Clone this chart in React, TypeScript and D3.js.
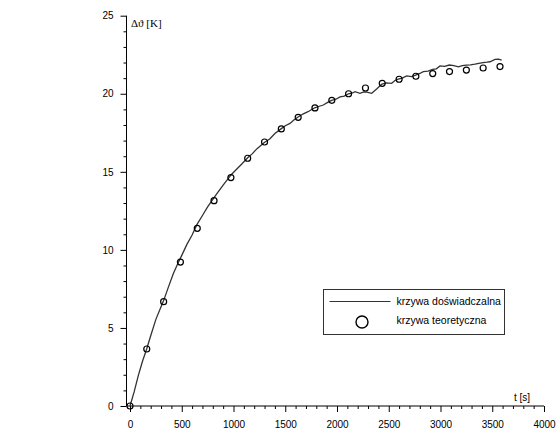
import React, { useRef, useEffect } from 'react';
import * as d3 from 'd3';

const expTime = [0, 40, 80, 120, 161, 200, 250, 300, 325, 370, 420, 460, 500, 550, 600, 645, 700, 750, 812, 850, 900, 976, 1020, 1080, 1137, 1180, 1230, 1301, 1350, 1400, 1459, 1500, 1546, 1580, 1620, 1670, 1720, 1784, 1830, 1868, 1910, 1948, 1990, 2029, 2070, 2112, 2150, 2174, 2222, 2260, 2287, 2335, 2383, 2434, 2480, 2528, 2560, 2592, 2630, 2673, 2720, 2760, 2800, 2834, 2880, 2924, 2960, 2995, 3040, 3085, 3130, 3173, 3210, 3250, 3290, 3333, 3370, 3410, 3450, 3478, 3527, 3560, 3591];
const expDelta = [0, 0.9, 1.95, 2.85, 3.65, 4.5, 5.55, 6.35, 6.75, 7.6, 8.5, 9.1, 9.65, 10.35, 10.95, 11.6, 12.2, 12.75, 13.35, 13.7, 14.15, 14.8, 15.1, 15.5, 15.9, 16.15, 16.5, 16.9, 17.1, 17.45, 17.75, 17.95, 18.1, 18.3, 18.5, 18.7, 18.85, 19.1, 19.2, 19.28, 19.45, 19.58, 19.65, 19.8, 19.85, 20.0, 20.05, 20.13, 20.03, 20.12, 20.1, 20.03, 20.3, 20.62, 20.7, 20.67, 20.85, 20.93, 21.0, 21.14, 21.1, 21.2, 21.3, 21.42, 21.45, 21.56, 21.6, 21.78, 21.75, 21.84, 21.8, 21.72, 21.8, 21.84, 21.85, 21.9, 21.95, 22.0, 22.02, 22.05, 22.2, 22.22, 22.16];

// theoretical points
const theoTime = [0, 162, 325, 487, 650, 812, 975, 1137, 1300, 1462, 1625, 1787, 1950, 2112, 2275, 2437, 2600, 2762, 2925, 3087, 3250, 3412, 3575];
const theoDelta = [0, 3.65, 6.68, 9.22, 11.38, 13.15, 14.63, 15.87, 16.91, 17.75, 18.49, 19.09, 19.58, 20.0, 20.37, 20.67, 20.93, 21.12, 21.29, 21.42, 21.52, 21.65, 21.74];

const xMajor = [0, 500, 1000, 1500, 2000, 2500, 3000, 3500, 4000];
const yMajor = [0, 5, 10, 15, 20, 25];
const legendLabels = ['krzywa doświadczalna', 'krzywa teoretyczna'];

const W = 556;
const H = 429;

const App = () => {
  const ref = useRef<SVGSVGElement>(null);

  useEffect(() => {
    const svg = d3.select(ref.current);
    svg.selectAll('*').remove();

    const x = d3.scaleLinear().domain([0, 4000]).range([130, 544]);
    const y = d3.scaleLinear().domain([0, 25]).range([406, 15.7]);
    const axisX = 126.5;
    const font = 'Arial, "Liberation Sans", sans-serif';

    // x axis
    const xMinor = d3.range(0, 4001, 100).filter(v => v % 500 !== 0);
    const gx = svg.append('g').attr('transform', `translate(0,${y(0)})`);
    gx.call(d3.axisBottom(x).tickValues(xMajor).tickSize(6).tickPadding(9).tickFormat(d3.format('d')));
    gx.select('.domain').remove();
    const gxm = svg.append('g').attr('transform', `translate(0,${y(0)})`);
    gxm.call(d3.axisBottom(x).tickValues(xMinor).tickSize(3).tickFormat(() => ''));
    gxm.select('.domain').remove();
    svg.append('line')
      .attr('x1', axisX).attr('x2', x(4000))
      .attr('y1', y(0)).attr('y2', y(0))
      .attr('stroke', '#000');

    // y axis
    const yMinor = d3.range(0, 26, 1).filter(v => v % 5 !== 0);
    const gy = svg.append('g').attr('transform', `translate(${axisX},0)`);
    gy.call(d3.axisLeft(y).tickValues(yMajor).tickSize(6).tickPadding(7));
    gy.select('.domain').remove();
    const gym = svg.append('g').attr('transform', `translate(${axisX},0)`);
    gym.call(d3.axisLeft(y).tickValues(yMinor).tickSize(3).tickFormat(() => ''));
    gym.select('.domain').remove();
    svg.append('line')
      .attr('x1', axisX).attr('x2', axisX)
      .attr('y1', y(25)).attr('y2', y(0))
      .attr('stroke', '#000');

    svg.selectAll('.tick text')
      .attr('font-family', font)
      .attr('font-size', 10)
      .attr('fill', '#000');
    svg.selectAll('.tick line').attr('stroke', '#000');

    // axis titles
    svg.append('text')
      .attr('x', 131).attr('y', 27)
      .attr('font-family', '"Liberation Serif", "Times New Roman", serif')
      .attr('font-size', 11)
      .text('Δϑ [K]');
    svg.append('text')
      .attr('x', 514).attr('y', 401)
      .attr('font-family', font)
      .attr('font-size', 10)
      .text('t [s]');

    // experimental curve
    const lineGen = d3.line<number>()
      .x((d, i) => x(expTime[i]))
      .y(d => y(d));
    svg.append('path')
      .attr('d', lineGen(expDelta))
      .attr('fill', 'none')
      .attr('stroke', '#333')
      .attr('stroke-width', 1.3);

    // theoretical points
    svg.append('g')
      .selectAll('circle')
      .data(theoDelta)
      .join('circle')
      .attr('cx', (d, i) => x(theoTime[i]))
      .attr('cy', d => y(d))
      .attr('r', 3)
      .attr('fill', 'none')
      .attr('stroke', '#000')
      .attr('stroke-width', 1.2);

    // legend
    const lg = svg.append('g').attr('transform', 'translate(323.5,289.5)');
    lg.append('rect')
      .attr('width', 181).attr('height', 45)
      .attr('fill', '#fff')
      .attr('stroke', '#333')
      .attr('stroke-width', 1);
    lg.append('line')
      .attr('x1', 6).attr('x2', 67)
      .attr('y1', 12).attr('y2', 12)
      .attr('stroke', '#333')
      .attr('stroke-width', 1);
    lg.append('circle')
      .attr('cx', 38.5).attr('cy', 32.5)
      .attr('r', 6)
      .attr('fill', 'none')
      .attr('stroke', '#000')
      .attr('stroke-width', 1.4);
    lg.selectAll('text.lab')
      .data(legendLabels)
      .join('text')
      .attr('class', 'lab')
      .attr('x', 73)
      .attr('y', (d, i) => 15.5 + i * 18.5)
      .attr('font-family', font)
      .attr('font-size', 10.5)
      .text(d => d);
  }, []);

  return (
    <svg
      ref={ref}
      width={W}
      height={H}
      style={{ position: 'absolute', left: 0, top: 0, background: '#fff' }}
    />
  );
};

export default App;
